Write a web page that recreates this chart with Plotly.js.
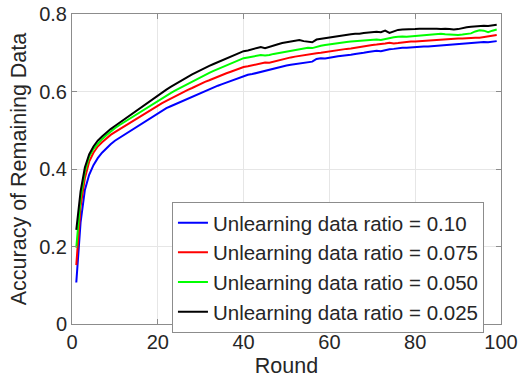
<!DOCTYPE html>
<html>
<head>
<meta charset="utf-8">
<script src="https://cdn.plot.ly/plotly-3.0.1.min.js"></script>
<style>html,body{margin:0;padding:0;background:#fff;}#chart{width:528px;height:381px;}</style>
</head>
<body>
<div id="chart"></div>
<script>
// Rounds 1..99
const rounds = Array.from({length: 99}, (_, i) => i + 1);

const seriesNames = [
  "Unlearning data ratio = 0.10",
  "Unlearning data ratio = 0.075",
  "Unlearning data ratio = 0.050",
  "Unlearning data ratio = 0.025"
];

const ratio010 = [
  0.107,0.262,0.346,0.385,0.410,0.428,0.442,0.454,0.464,0.473,0.480,0.488,0.496,
  0.503,0.510,0.517,0.524,0.531,0.538,0.545,
  0.551,0.557,0.562,0.567,0.572,0.577,0.582,0.587,0.592,0.597,
  0.601,0.606,0.611,0.615,0.619,0.623,0.628,0.632,0.637,0.640,
  0.643,0.645,0.648,0.651,0.653,0.655,0.658,0.661,0.664,0.667,
  0.669,0.671,0.673,0.675,0.676,0.677,0.684,0.686,0.685,0.688,
  0.689,0.691,0.692,0.694,0.695,0.697,0.698,0.700,0.702,0.704,
  0.705,0.704,0.707,0.709,0.710,0.712,0.713,0.713,0.714,0.714,
  0.715,0.716,0.716,0.717,0.718,0.719,0.720,0.721,0.721,0.722,
  0.723,0.724,0.726,0.726,0.727,0.728,0.727,0.729,0.730
];

const ratio0075 = [
  0.152,0.303,0.376,0.419,0.442,0.458,0.469,0.479,0.488,0.495,0.502,0.508,0.516,
  0.522,0.529,0.536,0.543,0.550,0.557,0.564,
  0.570,0.576,0.582,0.587,0.592,0.598,0.604,0.609,0.615,0.620,
  0.625,0.629,0.634,0.638,0.643,0.647,0.651,0.655,0.660,0.663,
  0.665,0.668,0.671,0.673,0.675,0.674,0.677,0.680,0.683,0.686,
  0.688,0.690,0.692,0.694,0.695,0.697,0.699,0.700,0.702,0.703,
  0.705,0.706,0.708,0.710,0.711,0.713,0.715,0.717,0.718,0.720,
  0.721,0.722,0.724,0.726,0.724,0.725,0.727,0.728,0.729,0.729,
  0.730,0.731,0.732,0.732,0.733,0.734,0.734,0.735,0.736,0.737,
  0.737,0.738,0.738,0.739,0.739,0.741,0.743,0.744,0.746
];

const ratio0050 = [
  0.197,0.324,0.393,0.432,0.452,0.466,0.477,0.487,0.497,0.505,0.513,0.520,0.528,
  0.535,0.542,0.549,0.556,0.563,0.570,0.577,
  0.584,0.590,0.596,0.602,0.608,0.614,0.620,0.626,0.632,0.638,
  0.643,0.648,0.653,0.658,0.663,0.668,0.673,0.677,0.682,0.686,
  0.688,0.690,0.692,0.694,0.693,0.694,0.697,0.699,0.701,0.703,
  0.706,0.708,0.710,0.712,0.713,0.712,0.716,0.718,0.720,0.722,
  0.724,0.725,0.727,0.728,0.729,0.730,0.731,0.731,0.732,0.733,
  0.734,0.733,0.736,0.738,0.740,0.741,0.742,0.741,0.742,0.744,
  0.745,0.746,0.747,0.748,0.748,0.749,0.748,0.747,0.746,0.746,
  0.747,0.748,0.750,0.755,0.758,0.757,0.753,0.757,0.760
];

const ratio0025 = [
  0.243,0.342,0.404,0.438,0.458,0.473,0.484,0.494,0.503,0.511,0.519,0.527,0.535,
  0.543,0.551,0.559,0.567,0.575,0.583,0.591,
  0.598,0.605,0.612,0.619,0.626,0.632,0.638,0.644,0.650,0.656,
  0.661,0.666,0.671,0.676,0.681,0.686,0.691,0.695,0.700,0.704,
  0.706,0.709,0.713,0.715,0.712,0.716,0.720,0.722,0.725,0.727,
  0.729,0.731,0.733,0.730,0.728,0.727,0.734,0.736,0.737,0.739,
  0.741,0.743,0.744,0.746,0.748,0.749,0.749,0.751,0.752,0.753,
  0.754,0.753,0.757,0.751,0.755,0.759,0.760,0.760,0.761,0.761,
  0.762,0.762,0.763,0.763,0.762,0.761,0.762,0.761,0.760,0.761,
  0.764,0.766,0.767,0.768,0.768,0.770,0.769,0.771,0.772
];

const xTicks = [0, 20, 40, 60, 80, 100];
const yTicks = [0, 0.2, 0.4, 0.6, 0.8];
const yTickText = ["0", "0.2", "0.4", "0.6", "0.8"];

const allSeries = [ratio010, ratio0075, ratio0050, ratio0025];
const colors = ["#0000ff", "#ff0000", "#00ff00", "#000000"];

const traces = allSeries.map((ys, i) => ({
  x: rounds,
  y: ys,
  type: "scatter",
  mode: "lines",
  name: seriesNames[i],
  line: {color: colors[i], width: 2}
}));

const font = {family: "Liberation Sans, Arial, Helvetica, sans-serif", color: "#262626"};

const axisCommon = {
  showline: true,
  linecolor: "#8c8c8c",
  linewidth: 1,
  mirror: "ticks",
  ticks: "inside",
  ticklen: 5,
  tickcolor: "#8c8c8c",
  showgrid: true,
  gridcolor: "#e6e6e6",
  gridwidth: 1,
  zeroline: false,
  tickfont: Object.assign({size: 20}, font)
};

const layout = {
  width: 528,
  height: 381,
  margin: {l: 72, r: 27, t: 14, b: 57},
  paper_bgcolor: "#ffffff",
  plot_bgcolor: "#ffffff",
  font: font,
  showlegend: true,
  xaxis: Object.assign({}, axisCommon, {
    range: [0, 100],
    tickvals: xTicks,
    title: {text: "Round", font: Object.assign({size: 21.5}, font), standoff: 5}
  }),
  yaxis: Object.assign({}, axisCommon, {
    range: [0, 0.8],
    tickvals: yTicks,
    ticktext: yTickText,
    title: {text: "Accuracy of Remaining Data", font: Object.assign({size: 21.5}, font), standoff: 6}
  }),
  legend: {
    x: 0.233,
    y: 0.394,
    xanchor: "left",
    yanchor: "top",
    bgcolor: "#ffffff",
    bordercolor: "#8c8c8c",
    borderwidth: 1,
    font: Object.assign({size: 20.5}, font),
    tracegroupgap: 0,
    itemwidth: 30
  }
};

Plotly.newPlot("chart", traces, layout, {displayModeBar: false, staticPlot: true});
</script>
</body>
</html>
